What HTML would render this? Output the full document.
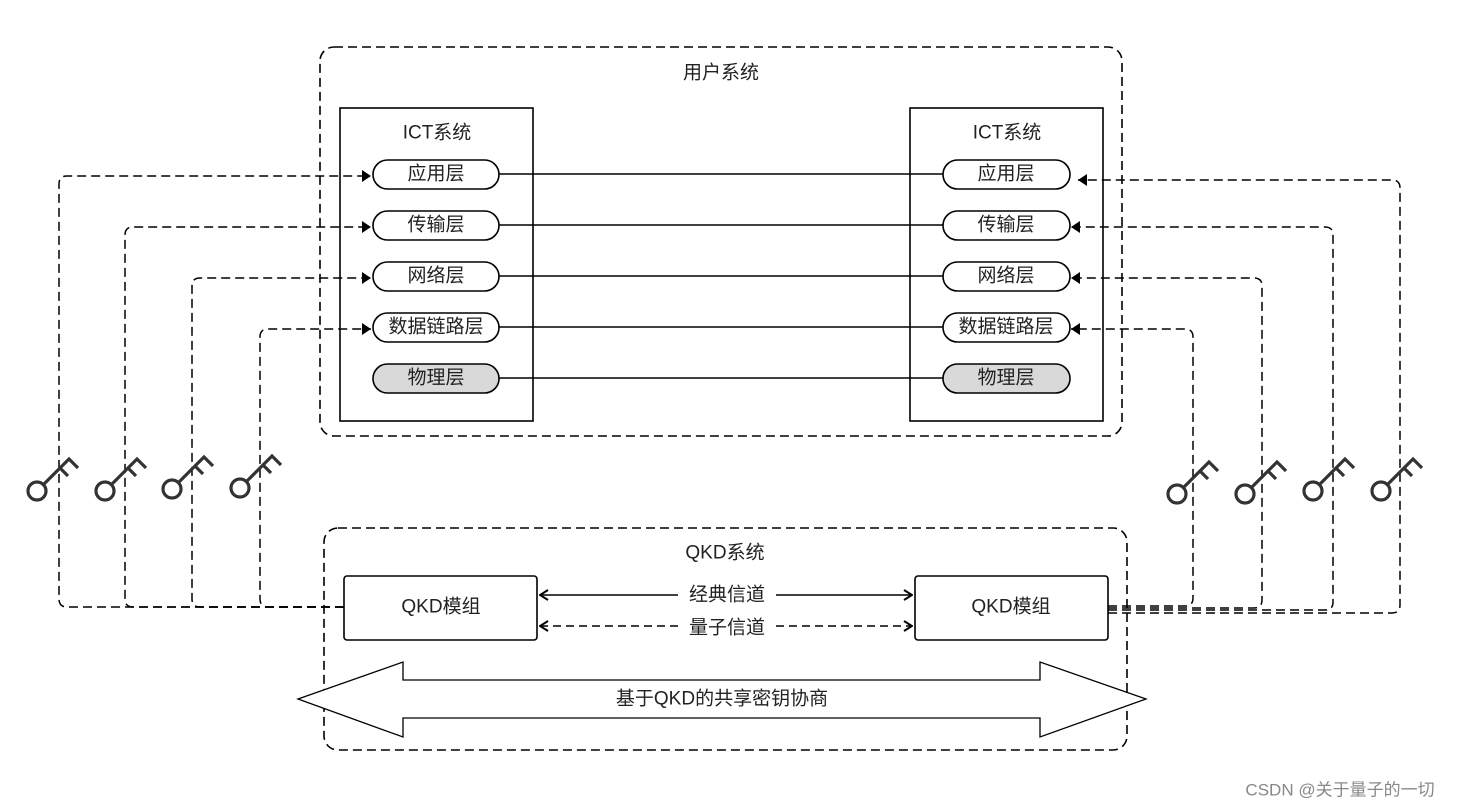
<!DOCTYPE html>
<html><head><meta charset="utf-8"><style>
body{margin:0;background:#fff}
svg{display:block}
text{font-family:"Liberation Sans","Noto Sans CJK SC",sans-serif;font-size:19px;fill:#222;text-anchor:middle;dominant-baseline:central}
</style></head><body>
<svg width="1459" height="810" viewBox="0 0 1459 810" xmlns="http://www.w3.org/2000/svg">
<defs>
<marker id="a" markerWidth="12" markerHeight="14" refX="10" refY="7" orient="auto" markerUnits="userSpaceOnUse"><path d="M1,1 L10,7 L1,13 Z" fill="#000"/></marker>
<marker id="o" markerWidth="10" markerHeight="12" refX="9" refY="6" orient="auto-start-reverse" markerUnits="userSpaceOnUse"><path d="M1,1 L9,6 L1,11" fill="none" stroke="#000" stroke-width="2"/></marker>
<g id="key" fill="none" stroke="#333" stroke-width="3.2"><circle cx="0" cy="0" r="9"/><path d="M7,-7 L32,-32 L41,-23 M23,-23 L31,-15"/></g>
</defs>
<g fill="none" stroke="#000" stroke-width="1.6">
<rect x="320" y="47" width="802" height="389" rx="14" stroke-dasharray="9 5"/>
<rect x="324" y="528" width="803" height="222" rx="14" stroke-dasharray="9 5"/>
<rect x="340" y="108" width="193" height="313"/>
<rect x="910" y="108" width="193" height="313"/>
<path d="M499,174H943M499,225H943M499,276H943M499,327H943M499,378H943" stroke-width="1.4"/>
<g stroke-dasharray="9 5" stroke-width="1.5">
<path d="M344,607H67Q59,607 59,599V184Q59,176 67,176H371" marker-end="url(#a)"/>
<path d="M344,607H133Q125,607 125,599V235Q125,227 133,227H371" marker-end="url(#a)"/>
<path d="M344,607H200Q192,607 192,599V286Q192,278 200,278H371" marker-end="url(#a)"/>
<path d="M344,607H268Q260,607 260,599V337Q260,329 268,329H371" marker-end="url(#a)"/>
<path d="M1108,606H1185Q1193,606 1193,598V337Q1193,329 1185,329H1071" marker-end="url(#a)"/>
<path d="M1108,608H1254Q1262,608 1262,600V286Q1262,278 1254,278H1071" marker-end="url(#a)"/>
<path d="M1108,610H1325Q1333,610 1333,602V235Q1333,227 1325,227H1071" marker-end="url(#a)"/>
<path d="M1108,613H1392Q1400,613 1400,605V188Q1400,180 1392,180H1078" marker-end="url(#a)"/>
</g>
</g>
<g stroke="#000" stroke-width="1.6">
<rect x="373" y="160" width="126" height="29" rx="14.5" fill="#fff"/>
<rect x="373" y="211" width="126" height="29" rx="14.5" fill="#fff"/>
<rect x="373" y="262" width="126" height="29" rx="14.5" fill="#fff"/>
<rect x="373" y="313" width="126" height="29" rx="14.5" fill="#fff"/>
<rect x="373" y="364" width="126" height="29" rx="14.5" fill="#d9d9d9"/>
<rect x="943" y="160" width="127" height="29" rx="14.5" fill="#fff"/>
<rect x="943" y="211" width="127" height="29" rx="14.5" fill="#fff"/>
<rect x="943" y="262" width="127" height="29" rx="14.5" fill="#fff"/>
<rect x="943" y="313" width="127" height="29" rx="14.5" fill="#fff"/>
<rect x="943" y="364" width="127" height="29" rx="14.5" fill="#d9d9d9"/>
<rect x="344" y="576" width="193" height="64" rx="3" fill="#fff"/>
<rect x="915" y="576" width="193" height="64" rx="3" fill="#fff"/>
</g>
<g fill="none" stroke="#000" stroke-width="1.5">
<path d="M540,595H678M776,595H912" marker-start="url(#o)" marker-end="url(#o)"/>
<path d="M540,626H678M776,626H912" stroke-dasharray="8 5" marker-start="url(#o)" marker-end="url(#o)"/>
</g>
<path d="M298,699 L403,662 L403,680 L1040,680 L1040,662 L1146,699 L1040,737 L1040,718 L403,718 L403,737 Z" fill="#fff" stroke="#000" stroke-width="1.3"/>
<use href="#key" x="37" y="491"/><use href="#key" x="105" y="491"/><use href="#key" x="172" y="489"/><use href="#key" x="240" y="488"/>
<use href="#key" x="1177" y="494"/><use href="#key" x="1245" y="494"/><use href="#key" x="1313" y="491"/><use href="#key" x="1381" y="491"/>
<text x="721" y="73">用户系统</text>
<text x="437" y="133">ICT系统</text>
<text x="1007" y="133">ICT系统</text>
<text x="436" y="174">应用层</text><text x="436" y="225">传输层</text><text x="436" y="276">网络层</text><text x="436" y="327">数据链路层</text><text x="436" y="378">物理层</text>
<text x="1006" y="174">应用层</text><text x="1006" y="225">传输层</text><text x="1006" y="276">网络层</text><text x="1006" y="327">数据链路层</text><text x="1006" y="378">物理层</text>
<text x="725" y="553">QKD系统</text>
<text x="441" y="607">QKD模组</text>
<text x="1011" y="607">QKD模组</text>
<text x="727" y="595">经典信道</text>
<text x="727" y="628">量子信道</text>
<text x="722" y="699">基于QKD的共享密钥协商</text>
<text x="1340" y="790" style="font-size:17px;fill:#888">CSDN @关于量子的一切</text>
</svg>
</body></html>
